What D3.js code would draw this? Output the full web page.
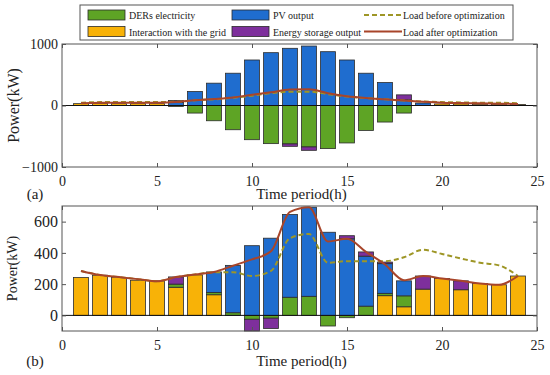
<!DOCTYPE html>
<html>
<head>
<meta charset="utf-8">
<script src="https://cdn.jsdelivr.net/npm/d3@7"></script>
<style>
  body { margin: 0; background: #fff; }
  svg { display: block; font-family: "Liberation Serif", "Times New Roman", serif; }
</style>
</head>
<body>
<svg id="chart" width="550" height="375"></svg>
<script>
// hours shared by both panels
const hours = [1, 2, 3, 4, 5, 6, 7, 8, 9, 10, 11, 12, 13, 14, 15, 16, 17, 18, 19, 20, 21, 22, 23, 24]
const xTicks = [0, 5, 10, 15, 20, 25]

// panel (a)
const gridA = [30, 35, 30, 30, 30, 0, 0, 0, 0, 0, 0, 0, 0, 0, 0, 0, 0, 0, 0, 25, 25, 20, 20, 15]
const derA = [0, 0, 0, 0, 0, -15, -123, -248, -394, -556, -620, -625, -674, -701, -609, -405, -269, -123, 0, 0, 0, 0, 0, 0]
const pvA = [0, 0, 0, 0, 0, 50, 227, 363, 525, 740, 859, 930, 967, 875, 740, 525, 373, 92, 40, 0, 0, 0, 0, 0]
const storageA = [0, 0, 0, 0, 0, 30, 0, 0, 0, 0, 0, -39, -55, 0, 0, 0, 0, 81, 0, 0, 0, 0, 0, 0]
const loadBeforeA = [45, 55, 55, 55, 55, 60, 85, 100, 125, 160, 200, 225, 225, 185, 145, 120, 100, 80, 65, 55, 50, 45, 45, 35]
const loadAfterA = [35, 45, 45, 45, 45, 55, 85, 105, 130, 175, 215, 260, 265, 200, 150, 120, 100, 80, 60, 45, 40, 35, 30, 25]
const yTicksA = [-1000, 0, 1000]

// panel (b)
const gridB = [242, 257, 242, 225, 221, 180, 259, 132, 0, 0, 0, 0, 0, 0, 0, 0, 126, 55, 168, 236, 164, 204, 196, 252]
const derB = [0, 0, 0, 0, 0, 20, 0, 15, 17, -25, -18, 116, 122, -68, -15, 59, 15, 70, 0, 0, 0, 0, 0, 0]
const pvB = [0, 0, 0, 0, 0, 0, 0, 131, 303, 446, 494, 529, 570, 532, 490, 320, 190, 96, 0, 0, 0, 0, 0, 0]
const storageB = [0, 0, 0, 0, 0, 46, 0, 0, 0, -75, -66, 0, 0, 0, 20, 27, 10, 0, 84, 0, 57, 0, 0, 0]
const loadBeforeB = [284, 258, 245, 232, 218, 245, 262, 276, 276, 252, 285, 494, 521, 337, 347, 347, 347, 372, 420, 393, 364, 337, 320, 252]
const loadAfterB = [284, 258, 245, 232, 218, 245, 262, 278, 318, 358, 410, 662, 692, 473, 490, 406, 326, 225, 252, 236, 221, 204, 196, 252]
const yTicksB = [0, 200, 400, 600]

const seriesKeys = ["grid", "der", "pv", "storage"]
const colors = { grid: "#f8b207", der: "#5ea425", pv: "#1f6dcf", storage: "#7e2f9c" }
const beforeColor = "#9e9626"
const afterColor = "#a8452a"
const frameColor = "#555"
const fontFamily = "Liberation Serif, Times New Roman, serif"

const svg = d3.select("#chart")

function drawPanel(opt) {
  const { left, right, top, bottom } = opt.box
  const x = d3.scaleLinear().domain([0, 25]).range([left, right])
  const y = d3.scaleLinear().domain(opt.yDomain).range([bottom, top])
  const g = svg.append("g")

  const rows = hours.map((h, i) => ({
    hour: h, grid: opt.grid[i], der: opt.der[i], pv: opt.pv[i], storage: opt.storage[i]
  }))
  const stacked = d3.stack().keys(seriesKeys).offset(d3.stackOffsetDiverging)(rows)
  const barW = (x(1) - x(0)) * 0.78

  stacked.forEach(layer => {
    g.append("g")
      .selectAll("rect")
      .data(layer.filter(d => d[1] !== d[0]))
      .join("rect")
        .attr("x", d => x(d.data.hour) - barW / 2)
        .attr("y", d => y(Math.max(d[0], d[1])))
        .attr("width", barW)
        .attr("height", d => Math.abs(y(d[0]) - y(d[1])))
        .attr("fill", colors[layer.key])
        .attr("stroke", "#2b2b2b")
        .attr("stroke-width", 0.8)
  })

  // zero line
  g.append("line")
    .attr("x1", left).attr("x2", right)
    .attr("y1", y(0)).attr("y2", y(0))
    .attr("stroke", "#111").attr("stroke-width", 1)

  const line = d3.line()
    .x((d, i) => x(hours[i]))
    .y(d => y(d))
    .curve(opt.curve)

  g.append("path")
    .datum(opt.loadBefore)
    .attr("d", line)
    .attr("fill", "none")
    .attr("stroke", beforeColor)
    .attr("stroke-width", 2)
    .attr("stroke-dasharray", "5 3")

  g.append("path")
    .datum(opt.loadAfter)
    .attr("d", line)
    .attr("fill", "none")
    .attr("stroke", afterColor)
    .attr("stroke-width", 2)

  // axes with inward ticks, matlab box style
  const xAxis = g.append("g")
    .attr("transform", `translate(0,${bottom})`)
    .call(d3.axisBottom(x).tickValues(xTicks).tickSize(-4).tickPadding(9))
  g.append("g")
    .attr("transform", `translate(0,${top})`)
    .call(d3.axisTop(x).tickValues(xTicks).tickSize(-4).tickFormat(""))
  const yAxis = g.append("g")
    .attr("transform", `translate(${left},0)`)
    .call(d3.axisLeft(y).tickValues(opt.yTicks).tickSize(-4).tickPadding(4).tickFormat(d3.format("d")))
  g.append("g")
    .attr("transform", `translate(${right},0)`)
    .call(d3.axisRight(y).tickValues(opt.yTicks).tickSize(-4).tickFormat(""))

  g.selectAll(".domain").remove()
  g.selectAll(".tick line").attr("stroke", frameColor)
  xAxis.attr("font-family", fontFamily)
  yAxis.attr("font-family", fontFamily)
  xAxis.selectAll("text").style("font-size", "14px").attr("fill", "#222")
  yAxis.selectAll("text").style("font-size", opt.yTickSize).attr("fill", "#222")

  g.append("rect")
    .attr("x", left).attr("y", top)
    .attr("width", right - left).attr("height", bottom - top)
    .attr("fill", "none").attr("stroke", frameColor).attr("stroke-width", 1)

  g.append("text")
    .attr("x", (left + right) / 2 + 2)
    .attr("y", opt.xLabelY)
    .attr("text-anchor", "middle")
    .style("font-size", "15px")
    .attr("fill", "#222")
    .text("Time period(h)")

  g.append("text")
    .attr("transform", `translate(${opt.yLabelX},${(top + bottom) / 2}) rotate(-90)`)
    .attr("text-anchor", "middle")
    .style("font-size", opt.yLabelSize)
    .attr("fill", "#222")
    .text("Power(kW)")

  g.append("text")
    .attr("x", 35)
    .attr("y", opt.xLabelY)
    .attr("text-anchor", "middle")
    .style("font-size", "15px")
    .attr("fill", "#222")
    .text(opt.tag)
}

drawPanel({
  box: { left: 62, right: 537, top: 44, bottom: 167 },
  yDomain: [-1000, 1000], yTicks: yTicksA,
  grid: gridA, der: derA, pv: pvA, storage: storageA,
  loadBefore: loadBeforeA, loadAfter: loadAfterA,
  curve: d3.curveMonotoneX,
  xLabelY: 199, yLabelX: 19, yLabelSize: "16px", yTickSize: "14px", tag: "(a)"
})

drawPanel({
  box: { left: 62, right: 537, top: 206, bottom: 331 },
  yDomain: [-100, 700], yTicks: yTicksB,
  grid: gridB, der: derB, pv: pvB, storage: storageB,
  loadBefore: loadBeforeB, loadAfter: loadAfterB,
  curve: d3.curveMonotoneX,
  xLabelY: 366, yLabelX: 17, yLabelSize: "14px", yTickSize: "16px", tag: "(b)"
})

// legend
const legend = svg.append("g")
legend.append("rect")
  .attr("x", 80).attr("y", 5).attr("width", 433).attr("height", 35)
  .attr("fill", "#fff").attr("stroke", frameColor).attr("stroke-width", 1)

const legendItems = [
  { label: "DERs electricity", type: "bar", key: "der", x: 88, row: 0 },
  { label: "Interaction with the grid", type: "bar", key: "grid", x: 88, row: 1 },
  { label: "PV output", type: "bar", key: "pv", x: 232, row: 0 },
  { label: "Energy storage output", type: "bar", key: "storage", x: 232, row: 1 },
  { label: "Load before optimization", type: "dash", x: 364, row: 0 },
  { label: "Load after optimization", type: "solid", x: 364, row: 1 }
]

legendItems.forEach(item => {
  const cy = 15 + item.row * 16.5
  if (item.type === "bar") {
    legend.append("rect")
      .attr("x", item.x).attr("y", cy - 5)
      .attr("width", 37).attr("height", 10)
      .attr("fill", colors[item.key]).attr("stroke", "#2b2b2b").attr("stroke-width", 0.8)
  } else {
    legend.append("line")
      .attr("x1", item.x).attr("x2", item.x + 38)
      .attr("y1", cy).attr("y2", cy)
      .attr("stroke", item.type === "dash" ? beforeColor : afterColor)
      .attr("stroke-width", 2)
      .attr("stroke-dasharray", item.type === "dash" ? "5 3" : null)
  }
  legend.append("text")
    .attr("x", item.type === "bar" ? item.x + 41 : item.x + 39)
    .attr("y", cy + 4)
    .style("font-size", "10px")
    .attr("fill", "#222")
    .text(item.label)
})
</script>
</body>
</html>
